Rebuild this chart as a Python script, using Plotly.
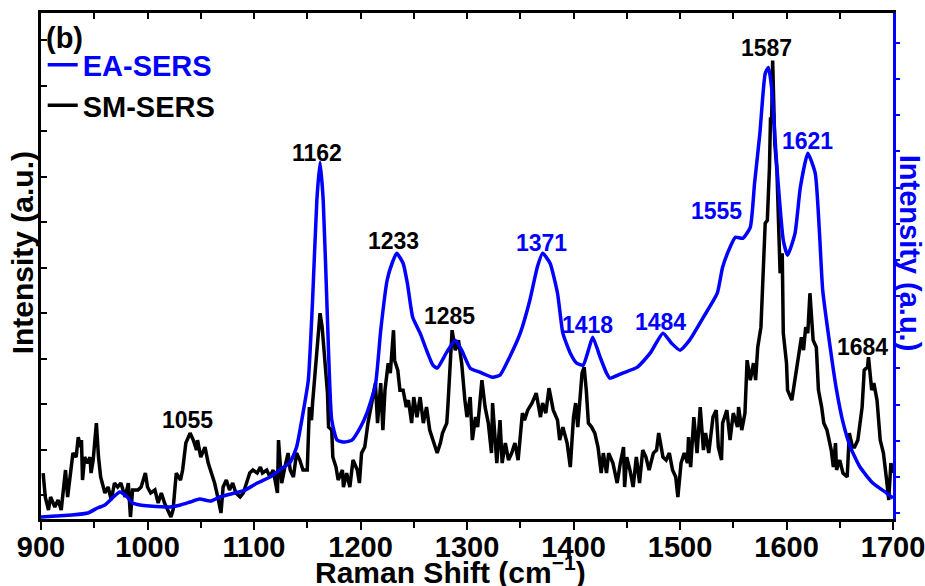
import plotly.graph_objects as go

# ---- data (Raman shift in cm^-1, intensity in arbitrary units) ----
ea_shift = [900, 914, 929, 944, 953, 960, 968, 974, 980, 986, 993, 1002, 1021, 1031, 1040, 1049, 1059, 1068,
            1082, 1092, 1103, 1115, 1124, 1134, 1140, 1146, 1151, 1155, 1159, 1162, 1165, 1169, 1173, 1178,
            1185, 1192, 1200, 1206, 1214, 1219, 1225, 1230, 1234, 1240, 1244, 1249, 1256, 1262, 1268, 1272,
            1281, 1289, 1295, 1303, 1312, 1324, 1331, 1340, 1350, 1359, 1366, 1371, 1378, 1385, 1390, 1397,
            1403, 1409, 1414, 1418, 1425, 1431, 1434, 1446, 1460, 1472, 1484, 1492, 1500, 1509, 1522, 1535,
            1540, 1547, 1552, 1559, 1566, 1570, 1575, 1580, 1583, 1586, 1591, 1597, 1601, 1608, 1613, 1620,
            1627, 1631, 1634, 1641, 1647, 1653, 1660, 1669, 1681, 1694, 1700]
ea_int = [2, 3, 4, 6, 11, 14, 22, 27, 23, 16, 14, 13, 12, 14, 17, 20, 18, 22,
          26, 29, 36, 42, 49, 57, 72, 106, 139, 219, 319, 357, 319, 199, 99, 79,
          77, 79, 92, 106, 134, 189, 239, 257, 266, 256, 236, 202, 186, 169, 154, 151,
          167, 179, 169, 151, 147, 142, 144, 162, 186, 219, 252, 266, 256, 226, 186, 166,
          156, 154, 169, 182, 162, 146, 141, 146, 152, 166, 186, 176, 169, 179, 202, 226,
          252, 272, 282, 281, 292, 336, 386, 446, 452, 432, 352, 279, 264, 286, 332, 366,
          346, 286, 229, 172, 129, 97, 72, 52, 36, 26, 21]

sm_shift = [902, 904, 907, 909, 913, 916, 919, 921, 923, 925, 928, 930, 933, 935, 937, 938, 939, 941, 944, 946,
            947, 949, 952, 954, 956, 960, 963, 966, 969, 972, 975, 979, 982, 984, 986, 991, 994, 998, 1000,
            1003, 1007, 1010, 1013, 1016, 1019, 1022, 1024, 1027, 1031, 1033, 1036, 1040, 1043, 1046, 1047,
            1050, 1054, 1057, 1060, 1063, 1066, 1069, 1071, 1074, 1077, 1080, 1083, 1087, 1090, 1092, 1096,
            1099, 1103, 1106, 1108, 1112, 1115, 1118, 1122, 1123, 1126, 1129, 1132, 1134, 1137, 1140, 1143,
            1146, 1150, 1152, 1154, 1155, 1159, 1162, 1164, 1166, 1169, 1170, 1173, 1174, 1177, 1179, 1183,
            1184, 1187, 1190, 1193, 1197, 1199, 1201, 1204, 1207, 1211, 1214, 1216, 1219, 1221, 1223, 1226,
            1228, 1231, 1232, 1235, 1237, 1240, 1243, 1245, 1248, 1250, 1253, 1256, 1259, 1262, 1265, 1268,
            1272, 1275, 1277, 1281, 1282, 1286, 1289, 1292, 1295, 1298, 1300, 1303, 1305, 1308, 1310, 1314,
            1317, 1320, 1323, 1324, 1328, 1331, 1333, 1336, 1339, 1342, 1345, 1348, 1352, 1354, 1357, 1361,
            1365, 1369, 1371, 1374, 1377, 1381, 1385, 1387, 1390, 1394, 1397, 1400, 1402, 1404, 1408, 1410,
            1412, 1414, 1417, 1420, 1423, 1426, 1428, 1431, 1433, 1437, 1441, 1444, 1447, 1448, 1450, 1453,
            1456, 1459, 1462, 1465, 1468, 1471, 1475, 1478, 1480, 1484, 1487, 1490, 1493, 1496, 1498, 1501,
            1504, 1507, 1508, 1510, 1513, 1516, 1519, 1522, 1524, 1527, 1531, 1534, 1536, 1539, 1540, 1544,
            1547, 1550, 1554, 1555, 1558, 1561, 1563, 1566, 1569, 1571, 1573, 1576, 1578, 1580, 1582, 1584,
            1585, 1586, 1587, 1589, 1591, 1593, 1594, 1596, 1597, 1600, 1601, 1605, 1608, 1611, 1614, 1616,
            1618, 1620, 1622, 1625, 1628, 1630, 1633, 1635, 1638, 1642, 1644, 1646, 1647, 1650, 1653, 1657,
            1659, 1662, 1664, 1667, 1671, 1673, 1676, 1677, 1680, 1682, 1685, 1688, 1691, 1694, 1696, 1698,
            1700]
sm_int = [46, 22, 9, 22, 12, 19, 9, 29, 49, 22, 49, 66, 62, 82, 72, 79, 39, 62, 56, 62,
          46, 59, 96, 62, 42, 26, 32, 19, 36, 32, 36, 22, 36, 2, 29, 29, 32, 46, 32,
          26, 29, 16, 26, 16, 9, 2, 9, 46, 39, 49, 76, 86, 79, 69, 79,
          62, 72, 56, 46, 36, 22, 6, 32, 39, 29, 36, 26, 22, 26, 32, 46,
          49, 46, 52, 46, 49, 42, 49, 26, 79, 36, 52, 66, 49, 42, 66, 59,
          49, 49, 112, 99, 116, 169, 206, 192, 162, 126, 92, 89, 62, 52, 39, 49,
          32, 46, 32, 59, 49, 36, 66, 72, 96, 119, 136, 96, 136, 89, 129, 156,
          146, 189, 159, 149, 129, 129, 112, 119, 96, 122, 102, 122, 96, 112, 89, 79,
          66, 76, 86, 96, 112, 189, 169, 179, 156, 119, 102, 122, 79, 102, 92, 139,
          112, 96, 66, 116, 56, 99, 56, 76, 59, 66, 76, 59, 106, 99, 109, 116,
          126, 102, 116, 106, 131, 109, 99, 79, 92, 76, 52, 102, 116, 92, 146, 152,
          129, 96, 92, 86, 72, 46, 66, 46, 66, 56, 36, 56, 72, 32, 62, 49,
          32, 62, 36, 69, 62, 49, 66, 69, 86, 62, 59, 66, 49, 42, 22, 56,
          66, 56, 82, 52, 102, 66, 112, 69, 86, 66, 102, 109, 72, 59, 96, 109,
          79, 106, 92, 112, 89, 106, 159, 139, 156, 139, 172, 192, 246, 296, 299, 352,
          402, 396, 459, 376, 349, 279, 246, 266, 186, 156, 129, 119, 139, 159, 182, 169,
          192, 186, 226, 179, 172, 129, 112, 96, 89, 69, 52, 76, 49, 59, 46, 42,
          86, 72, 72, 79, 112, 149, 152, 162, 129, 136, 119, 79, 66, 39, 19, 56,
          46]

peak_labels = ["1055", "1162", "1233", "1285", "1371", "1418", "1484", "1555", "1587", "1621", "1684"]
peak_label_x = [1038, 1159, 1231, 1284, 1370, 1413, 1482, 1534, 1581, 1620, 1671]
peak_label_y = [99, 366, 278, 203, 276, 194, 197, 308, 471, 378, 172]
peak_label_series = ["SM", "SM", "SM", "SM", "EA", "EA", "EA", "EA", "SM", "EA", "SM"]

BLUE = "#0000ff"
BLACK = "#000000"
FONT = "Liberation Sans, Arial, sans-serif"

fig = go.Figure()
fig.add_trace(go.Scatter(x=ea_shift, y=ea_int, mode="lines", xaxis="x2", yaxis="y2",
                         line=dict(color=BLUE, width=3.5, shape="spline", smoothing=0.5),
                         name="<span style='color:#0000ff'>EA-SERS</span>"))
fig.add_trace(go.Scatter(x=sm_shift, y=sm_int, mode="lines", xaxis="x", yaxis="y",
                         line=dict(color=BLACK, width=3.5),
                         name="SM-SERS"))

for t, x, y, s in zip(peak_labels, peak_label_x, peak_label_y, peak_label_series):
    fig.add_annotation(x=x, y=y, xref="x", yref="y", text="<b>" + t + "</b>",
                       showarrow=False, xanchor="center", yanchor="middle",
                       font=dict(family=FONT, size=23, color=BLUE if s == "EA" else BLACK))

# axis titles and panel tag
fig.add_annotation(xref="paper", yref="paper", x=0.481, y=-0.100, text="<b>Raman Shift (cm<sup>−1</sup>)</b>",
                   showarrow=False, xanchor="center", yanchor="middle",
                   font=dict(family=FONT, size=30, color=BLACK))
fig.add_annotation(xref="paper", yref="paper", x=-0.0223, y=0.525, text="<b>Intensity (a.u.)</b>",
                   showarrow=False, textangle=-90, xanchor="center", yanchor="middle",
                   font=dict(family=FONT, size=30, color=BLACK))
fig.add_annotation(xref="paper", yref="paper", x=1.0195, y=0.525, text="<b>Intensity (a.u.)</b>",
                   showarrow=False, textangle=90, xanchor="center", yanchor="middle",
                   font=dict(family=FONT, size=29, color=BLUE))
fig.add_annotation(xref="paper", yref="paper", x=0.003, y=0.950, text="<b>(b)</b>",
                   showarrow=False, xanchor="left", yanchor="middle",
                   font=dict(family=FONT, size=29, color=BLACK))

yr = [0, 506.5]
fig.update_layout(
    width=925, height=586,
    margin=dict(l=41, r=32, t=13, b=67, autoexpand=False),
    paper_bgcolor="white", plot_bgcolor="white",
    font=dict(family=FONT, color=BLACK),
    xaxis=dict(range=[900, 1700], tick0=900, dtick=100, ticks="outside", ticklen=8, tickwidth=2,
               tickcolor=BLACK, showline=True, linecolor=BLACK, linewidth=2.5, showgrid=False,
               zeroline=False, tickfont=dict(family=FONT, size=29, color=BLACK, weight="bold"),
               ticklabeloverflow="allow", ticklabelstandoff=-8, automargin=False,
               minor=dict(dtick=50, ticks="outside", ticklen=6, tickwidth=2, tickcolor=BLACK),
               anchor="y"),
    xaxis2=dict(range=[900, 1700], overlaying="x", side="top", anchor="y2", automargin=False,
                tick0=900, dtick=50, ticks="inside", ticklen=6, tickwidth=2, tickcolor=BLACK,
                showticklabels=False, showline=True, linecolor=BLACK, linewidth=2.5,
                showgrid=False, zeroline=False),
    yaxis=dict(range=yr, showticklabels=False, tick0=24, dtick=45.5, ticks="inside", ticklen=6,
               tickwidth=2, tickcolor=BLACK, showline=True, linecolor=BLACK, linewidth=2.5,
               showgrid=False, zeroline=False, anchor="x", automargin=False),
    yaxis2=dict(range=yr, overlaying="y", side="right", anchor="x2", showticklabels=False,
                automargin=False,
                tick0=6, dtick=36.2, ticks="outside", ticklen=4, tickwidth=2, tickcolor=BLUE,
                showline=True, linecolor=BLUE, linewidth=2.5, showgrid=False, zeroline=False),
    showlegend=True,
    legend=dict(x=0.002, y=0.948, xanchor="left", yanchor="top", bgcolor="rgba(0,0,0,0)",
                font=dict(family=FONT, size=29, color=BLACK, weight="bold"),
                itemwidth=30, tracegroupgap=0),
)

fig.write_html("out.html")
